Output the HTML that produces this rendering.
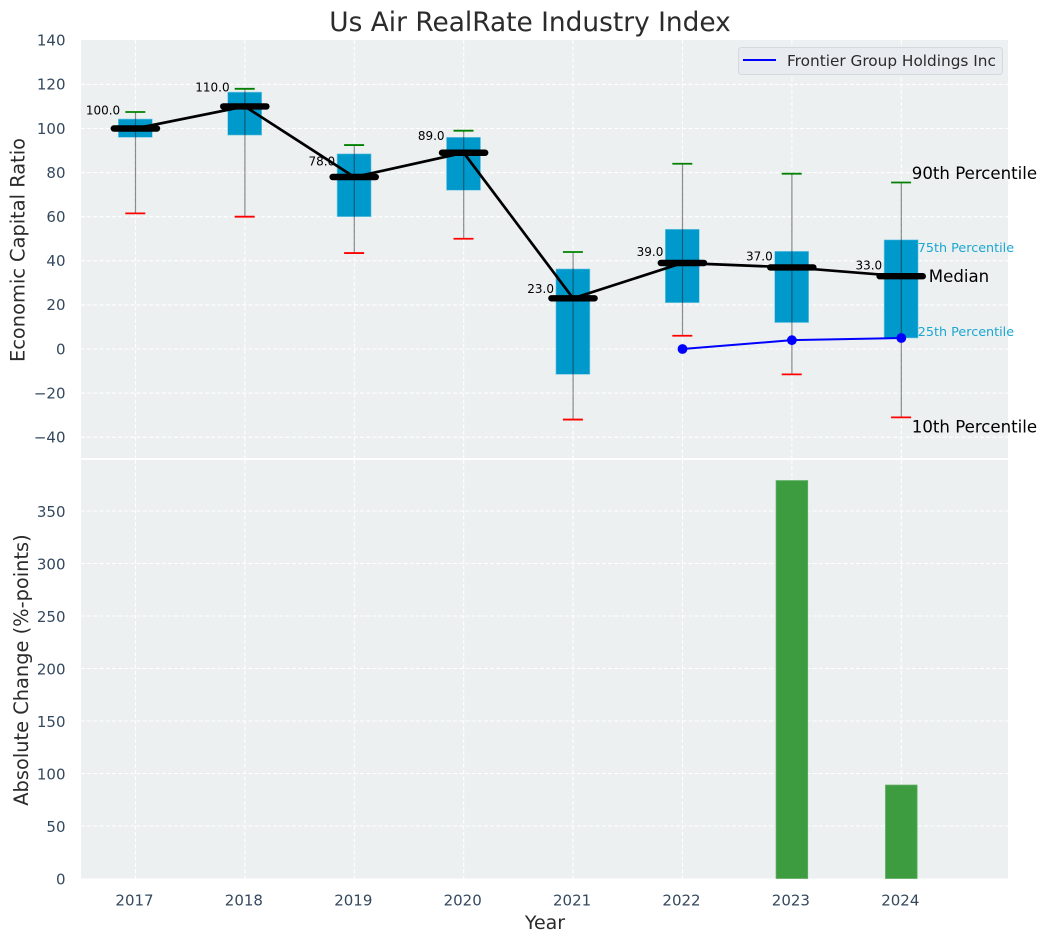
<!DOCTYPE html>
<html>
<head>
<meta charset="utf-8">
<title>Us Air RealRate Industry Index</title>
<style>
html,body{margin:0;padding:0;background:#fff;width:1047px;height:942px;overflow:hidden}
svg{display:block;font-family:"DejaVu Sans","Liberation Sans",sans-serif}
</style>
</head>
<body>
<svg id="chart" xmlns="http://www.w3.org/2000/svg" width="1047" height="942" viewBox="0 0 1047 942">
  <rect x="81" y="40" width="927" height="418" fill="#ecf0f1"/>
  <rect x="81" y="460" width="927" height="418.5" fill="#ecf0f1"/>
  <g id="grid"></g>
  <g id="bars"></g>
  <g id="boxes"></g>
  <g id="lines"></g>
  <g id="labels"></g>
  <text x="530" y="31" text-anchor="middle" font-size="26.4" fill="#2b2b2b">Us Air RealRate Industry Index</text>
  <text transform="translate(24.5,250) rotate(-90)" text-anchor="middle" font-size="19.4" fill="#2b2b2b">Economic Capital Ratio</text>
  <text transform="translate(28,670) rotate(-90)" text-anchor="middle" font-size="19.4" fill="#2b2b2b">Absolute Change (%-points)</text>
  <text x="545" y="929" text-anchor="middle" font-size="19" fill="#2b2b2b">Year</text>
  <g>
    <rect x="738.5" y="47.5" width="264" height="27" rx="3" fill="#e8ebf0" stroke="#d5d8dc" stroke-width="1"/>
    <line x1="743" y1="60" x2="776" y2="60" stroke="#0000ff" stroke-width="2"/>
    <text x="787" y="66" font-size="15.3" fill="#2b2b2b">Frontier Group Holdings Inc</text>
  </g>
</svg>
<script>
var years = [2017, 2018, 2019, 2020, 2021, 2022, 2023, 2024];
var p90 = [107.5, 118, 92.5, 99, 44, 84, 79.5, 75.5];
var p75 = [104.3, 116.5, 88.5, 96, 36.3, 54.3, 44.3, 49.5];
var median = [100, 110, 78, 89, 23, 39, 37, 33];
var p25 = [96, 97, 60, 72, -11.5, 21, 12, 5];
var p10 = [61.5, 60, 43.5, 50, -32, 6, -11.5, -31];
var companyYears = [2022, 2023, 2024];
var companyValues = [0, 4, 5];
var changeYears = [2023, 2024];
var changeValues = [379, 89];
var topTicks = [140, 120, 100, 80, 60, 40, 20, 0, -20, -40];
var bottomTicks = [0, 50, 100, 150, 200, 250, 300, 350];

var NS = 'http://www.w3.org/2000/svg';
function x(v) { return 135.5 + (v - 2017) * 109.4; }
function yTop(v) { return 349 - v * 2.205; }
function yBottom(v) { return 878.5 - v * 1.05; }
function make(tag, parent, attrs, txt) {
  var el = document.createElementNS(NS, tag);
  for (var k in attrs) el.setAttribute(k, attrs[k]);
  if (txt !== undefined) el.textContent = txt;
  parent.appendChild(el);
  return el;
}
var grid = document.getElementById('grid');
var bars = document.getElementById('bars');
var boxes = document.getElementById('boxes');
var lines = document.getElementById('lines');
var labels = document.getElementById('labels');
var dash = { stroke: '#ffffff', 'stroke-width': 1.1, 'stroke-dasharray': '4 2.2' };
function gridAttrs(a) { for (var k in dash) a[k] = dash[k]; return a; }

years.forEach(function (yr) {
  var gv = make('line', grid, gridAttrs({ x1: x(yr), x2: x(yr), y1: 40, y2: 458 }));
  
  
  var gb = make('line', grid, gridAttrs({ x1: x(yr), x2: x(yr), y1: 460, y2: 878.5 }));
  
  
  var tl = make('text', labels, { x: x(yr) - 1, y: 905.5, 'text-anchor': 'middle', 'font-size': 15, fill: '#34495e' }, String(yr));
  
  
});
topTicks.forEach(function (t) {
  if (t !== 140) {
    var g = make('line', grid, gridAttrs({ x1: 81, x2: 1008, y1: yTop(t), y2: yTop(t) }));
    
    
  }
  var l = make('text', labels, { x: 65.5, y: yTop(t) + 5.3, 'text-anchor': 'end', 'font-size': 15, fill: '#34495e' }, (t < 0 ? '\u2212' + (-t) : String(t)));
  
  
});
bottomTicks.forEach(function (t) {
  if (t !== 0) {
    var g = make('line', grid, gridAttrs({ x1: 81, x2: 1008, y1: yBottom(t), y2: yBottom(t) }));
    
    
  }
  var l = make('text', labels, { x: 65.5, y: yBottom(t) + 6, 'text-anchor': 'end', 'font-size': 15, fill: '#34495e' }, String(t));
  
  
});

changeYears.forEach(function (yr, i) {
  var r = make('rect', bars, { x: x(yr) - 15.8, y: yBottom(changeValues[i]), width: 31.6, height: yBottom(0) - yBottom(changeValues[i]), fill: '#3c9c3f', stroke: '#5fae62', 'stroke-width': 0.8 });
  
  
});

years.forEach(function (yr, i) {
  var cx = x(yr);
  var box = make('rect', boxes, { x: cx - 17.2, y: yTop(p75[i]), width: 34, height: yTop(p25[i]) - yTop(p75[i]), fill: '#0099cc', stroke: '#7fcce5', 'stroke-width': 0.6 });
  
  
  var w = make('line', boxes, { x1: cx, x2: cx, y1: yTop(p90[i]), y2: yTop(p10[i]), stroke: 'rgba(30,30,30,0.5)', 'stroke-width': 1.2 });
  
  
  var c90 = make('line', boxes, { x1: cx - 10.2, x2: cx + 9.8, y1: yTop(p90[i]), y2: yTop(p90[i]), stroke: '#008000', 'stroke-width': 1.8 });
  
  
  var c10 = make('line', boxes, { x1: cx - 10.2, x2: cx + 9.8, y1: yTop(p10[i]), y2: yTop(p10[i]), stroke: '#ff0000', 'stroke-width': 1.8 });
  
  
});

var medianPath = years.map(function (yr, i) { return x(yr) + ',' + yTop(median[i]); }).join(' ');
var medLine = make('polyline', lines, { points: medianPath, fill: 'none', stroke: '#000000', 'stroke-width': 2.7 });


years.forEach(function (yr, i) {
  var m = make('line', lines, { x1: x(yr) - 21.7, x2: x(yr) + 21.5, y1: yTop(median[i]), y2: yTop(median[i]), stroke: '#000000', 'stroke-width': 6.4, 'stroke-linecap': 'round' });
  
  
  var t = make('text', labels, { x: x(yr) - 32.5, y: yTop(median[i] * 1.05 + 3) + 3.7, 'text-anchor': 'middle', 'font-size': 12, fill: '#000000' }, median[i].toFixed(1));
  
  
});

var compPath = companyYears.map(function (yr, i) { return x(yr) + ',' + yTop(companyValues[i]); }).join(' ');
var compLine = make('polyline', lines, { points: compPath, fill: 'none', stroke: '#0000ff', 'stroke-width': 2 });


companyYears.forEach(function (yr, i) {
  var d = make('circle', lines, { cx: x(yr), cy: yTop(companyValues[i]), r: 4.9, fill: '#0000ff' });
  
  
});

var last = years.length - 1;
var lx = x(years[last]);
var a1 = make('text', labels, { x: lx + 10.5, y: yTop(p90[last]) - 3.5, 'font-size': 16.6, fill: '#000000' }, '90th Percentile');


var a2 = make('text', labels, { x: lx + 16.5, y: yTop(p75[last]) + 12, 'font-size': 12.75, fill: '#1ca6d2' }, '75th Percentile');


var a3 = make('text', labels, { x: lx + 27.5, y: yTop(median[last]) + 6, 'font-size': 16.6, fill: '#000000' }, 'Median');


var a4 = make('text', labels, { x: lx + 16.5, y: yTop(p25[last]) - 2, 'font-size': 12.75, fill: '#1ca6d2' }, '25th Percentile');


var a5 = make('text', labels, { x: lx + 10.5, y: yTop(p10[last]) + 15, 'font-size': 16.6, fill: '#000000' }, '10th Percentile');


</script>
</body>
</html>
